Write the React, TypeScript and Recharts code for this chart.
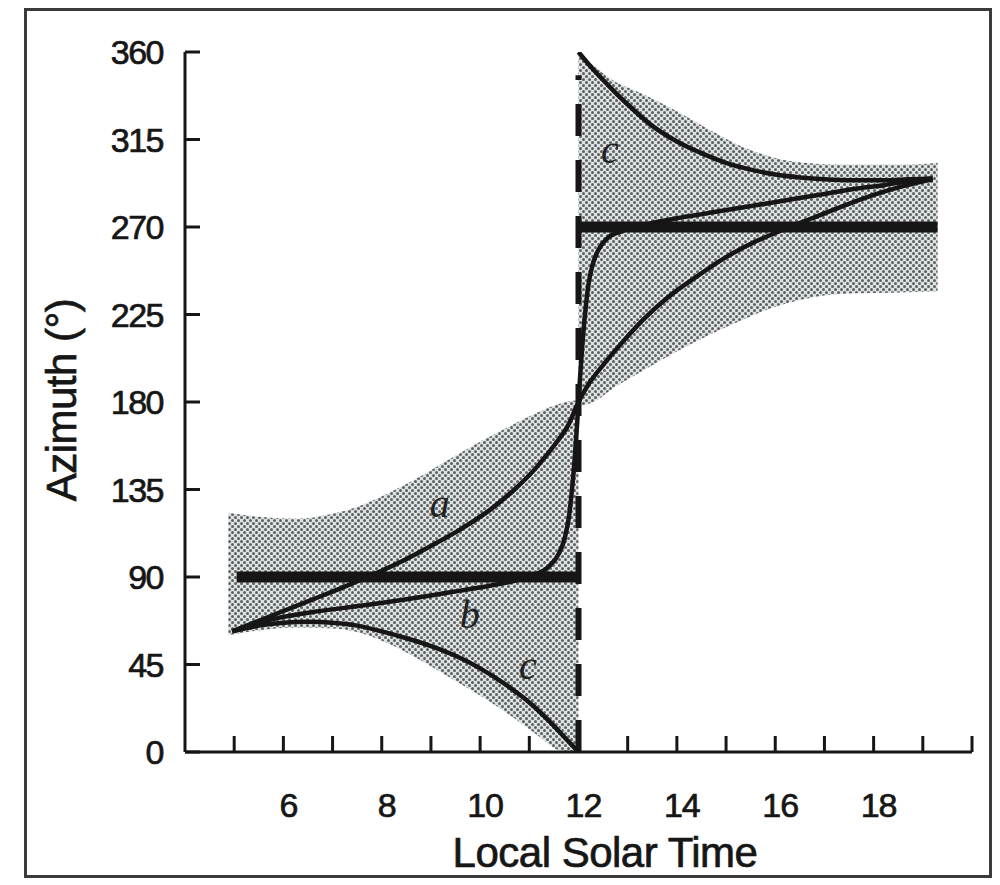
import React from "react";
import {
  ComposedChart,
  Area,
  Line,
  XAxis,
  YAxis,
  ReferenceDot,
} from "recharts";

// hour ticks and azimuth ticks
const hourTicks = [5, 6, 7, 8, 9, 10, 11, 12, 13, 14, 15, 16, 17, 18, 19, 20];
const hourLabels = [6, 8, 10, 12, 14, 16, 18];
const azimuthTicks = [0, 45, 90, 135, 180, 225, 270, 315, 360];

// shaded morning band
const leftBandX = [4.88, 5.5, 6.3, 7.0, 7.6, 8.2, 8.8, 9.4, 10.0, 10.6, 11.2, 11.6, 12.0];
const leftBandLo = [60, 62.5, 64, 63.5, 61, 55, 47, 38, 29, 19, 8, 1, 0];
const leftBandHi = [123, 121, 120, 122.5, 127, 134, 142, 151, 159.5, 167.5, 175, 179, 181];

// shaded afternoon band
const rightBandX = [12.0, 12.3, 12.7, 13.3, 14.0, 14.7, 15.4, 16.0, 16.6, 17.3, 18.0, 18.7, 19.3];
const rightBandLo = [178, 180, 187, 196, 206, 215, 223, 229, 233, 235.5, 236, 236.5, 237];
const rightBandHi = [360, 353, 345.5, 338.5, 329.5, 319.5, 310.5, 305.5, 303, 302, 302, 302, 303];

// curve a
const aX = [4.96, 5.5, 6.0, 6.6, 7.2, 7.8, 8.4, 9.0, 9.6, 10.2, 10.7, 11.15, 11.5, 11.8, 12.0,
  12.2, 12.5, 12.85, 13.3, 13.8, 14.4, 15.0, 15.6, 16.2, 16.8, 17.4, 18.0, 18.6, 19.2];
const aY = [62, 67.5, 72.5, 78.5, 84.5, 91, 98, 106, 114.5, 124.5, 135, 146.5, 157.5, 168.5, 180,
  189, 199, 209.5, 222, 233.5, 244.5, 254.5, 262.5, 269, 275, 281, 286.5, 291, 294.5];

// curve b
const bX = [4.96, 5.5, 6.0, 6.6, 7.2, 7.8, 8.4, 9.0, 9.6, 10.2, 10.7, 11.1, 11.4, 11.6, 11.72,
  11.8, 11.86, 11.92, 11.97, 12.0, 12.03, 12.08, 12.14, 12.2, 12.28, 12.4, 12.6, 12.9, 13.4,
  14.0, 14.6, 15.2, 15.8, 16.4, 17.0, 17.6, 18.2, 18.7, 19.2];
const bY = [62, 66.5, 69.5, 72, 74, 76, 78.2, 80.5, 83, 85.5, 88, 91, 95.5, 102, 110,
  120, 133, 150, 168, 180, 192, 210, 227, 240, 250, 258, 264.5, 268, 271.5,
  274.5, 277, 279.5, 282, 284.5, 287, 289.5, 291.5, 293.5, 295];

// curve c, morning and afternoon branches
const cLeftX = [4.96, 5.5, 6.0, 6.5, 7.0, 7.5, 8.0, 8.5, 9.0, 9.5, 10.0, 10.5, 11.0, 11.4, 11.7, 12.0];
const cLeftY = [62, 65, 66.5, 67, 66.5, 65, 62, 58.5, 54.5, 49.5, 43, 35, 25.5, 16, 8, 0];
const cRightX = [12.0, 12.3, 12.6, 13.0, 13.5, 14.0, 14.5, 15.0, 15.5, 16.0, 16.5, 17.0, 17.6, 18.2, 18.7, 19.2];
const cRightY = [360, 351, 343, 333, 322, 314, 308, 303, 299.5, 297, 295.5, 294.5, 294, 294, 294.5, 295];

// heavy bars and the noon line
const bar90X = [5.05, 12];
const bar90Y = [90, 90];
const bar270X = [12, 19.3];
const bar270Y = [270, 270];
const noonX = [12, 12];
const noonY = [0, 348];

// curve letters
const curveLabels = [
  { x: 9.18, y: 128, text: "a" },
  { x: 9.79, y: 71, text: "b" },
  { x: 10.97, y: 45, text: "c" },
  { x: 12.64, y: 310, text: "c" },
];

const zip = (xs: number[], ys: number[]) => xs.map((x, i) => ({ x, y: ys[i] }));
const band = (xs: number[], lo: number[], hi: number[]) =>
  xs.map((x, i) => ({ x, lo: lo[i], hi: hi[i] }));

const INK = "#161616";
const FONT = "'Liberation Sans', Arial, Helvetica, sans-serif";

function HourTick(props: any) {
  const { x, y, payload } = props;
  const v = payload.value;
  return (
    <g>
      <line x1={x} y1={y} x2={x} y2={y - 16} stroke={INK} strokeWidth={3} />
      {hourLabels.includes(v) && (
        <text
          x={x + 5}
          y={y + 65}
          textAnchor="middle"
          fontSize={34}
          fontFamily={FONT}
          fill={INK}
          stroke={INK}
          strokeWidth={0.7}
          letterSpacing={-1}
        >
          {v}
        </text>
      )}
    </g>
  );
}

function AzimuthTick(props: any) {
  const { x, y, payload } = props;
  return (
    <g>
      <line x1={x} y1={y} x2={x + 15} y2={y} stroke={INK} strokeWidth={3} />
      <text
        x={x - 22}
        y={y + 12}
        textAnchor="end"
        fontSize={34}
        fontFamily={FONT}
        fill={INK}
        stroke={INK}
        strokeWidth={0.7}
        letterSpacing={-1.5}
      >
        {payload.value}
      </text>
    </g>
  );
}

const curveProps = {
  dataKey: "y",
  type: "monotone" as const,
  stroke: INK,
  strokeWidth: 4.5,
  dot: false,
  isAnimationActive: false,
};

export default function App() {
  return (
    <div
      style={{
        position: "absolute",
        left: 0,
        top: 0,
        width: 1000,
        height: 885,
        background: "#fff",
        overflow: "hidden",
      }}
    >
      <div
        style={{
          position: "absolute",
          left: 24,
          top: 8,
          width: 968,
          height: 870,
          border: "3px solid #3a3a3a",
          boxSizing: "border-box",
        }}
      />
      <ComposedChart
        width={1000}
        height={885}
        margin={{ top: 52, right: 28, left: 0, bottom: 0 }}
        style={{ position: "absolute", left: 0, top: 0 }}
      >
        <defs>
          <pattern id="dots" width={6} height={6} patternUnits="userSpaceOnUse">
            <rect width={6} height={6} fill="#dce3e5" />
            <circle cx={1.5} cy={1.5} r={1.5} fill="#5e5e5e" />
            <circle cx={4.5} cy={4.5} r={1.5} fill="#5e5e5e" />
          </pattern>
        </defs>
        <XAxis
          type="number"
          dataKey="x"
          domain={[4, 20]}
          ticks={hourTicks}
          interval={0}
          height={133}
          allowDataOverflow
          tickSize={0}
          tickMargin={0}
          tickLine={false}
          axisLine={{ stroke: INK, strokeWidth: 3 }}
          tick={<HourTick />}
        />
        <YAxis
          type="number"
          domain={[0, 360]}
          ticks={azimuthTicks}
          interval={0}
          width={185}
          allowDataOverflow
          tickSize={0}
          tickMargin={0}
          tickLine={false}
          axisLine={{ stroke: INK, strokeWidth: 3 }}
          tick={<AzimuthTick />}
        />
        <Area
          data={band(leftBandX, leftBandLo, leftBandHi)}
          dataKey={(d: any) => [d.lo, d.hi]}
          type="monotone"
          stroke="none"
          fill="url(#dots)"
          fillOpacity={1}
          isAnimationActive={false}
        />
        <Area
          data={band(rightBandX, rightBandLo, rightBandHi)}
          dataKey={(d: any) => [d.lo, d.hi]}
          type="monotone"
          stroke="none"
          fill="url(#dots)"
          fillOpacity={1}
          isAnimationActive={false}
        />
        <Line
          data={zip(noonX, noonY)}
          dataKey="y"
          type="linear"
          stroke={INK}
          strokeWidth={6}
          strokeDasharray="32 24"
          dot={false}
          isAnimationActive={false}
        />
        <Line
          data={zip(bar90X, bar90Y)}
          dataKey="y"
          type="linear"
          stroke={INK}
          strokeWidth={11}
          dot={false}
          isAnimationActive={false}
        />
        <Line
          data={zip(bar270X, bar270Y)}
          dataKey="y"
          type="linear"
          stroke={INK}
          strokeWidth={11}
          dot={false}
          isAnimationActive={false}
        />
        <Line data={zip(aX, aY)} {...curveProps} />
        <Line data={zip(bX, bY)} {...curveProps} />
        <Line data={zip(cLeftX, cLeftY)} {...curveProps} />
        <Line data={zip(cRightX, cRightY)} {...curveProps} />
        {curveLabels.map((l, i) => (
          <ReferenceDot
            key={i}
            x={l.x}
            y={l.y}
            r={0}
            fill="none"
            stroke="none"
            label={{
              value: l.text,
              position: "center",
              fill: "#222",
              fontSize: 40,
              fontStyle: "italic",
              fontFamily: "'Liberation Serif', 'Times New Roman', serif",
            }}
          />
        ))}
      </ComposedChart>
      <div
        style={{
          position: "absolute",
          left: 0,
          width: 1000,
          top: 830,
          paddingLeft: 210,
          boxSizing: "border-box",
          textAlign: "center",
          fontFamily: FONT,
          fontSize: 42,
          letterSpacing: -0.5,
          color: INK,
          lineHeight: "46px",
          WebkitTextStroke: "0.7px #161616",
        }}
      >
        Local Solar Time
      </div>
      <div
        style={{
          position: "absolute",
          left: 62,
          top: 400,
          transform: "translate(-50%, -50%) rotate(-90deg)",
          whiteSpace: "nowrap",
          fontFamily: FONT,
          fontSize: 42,
          letterSpacing: -0.5,
          color: INK,
          lineHeight: "46px",
          WebkitTextStroke: "0.7px #161616",
        }}
      >
        Azimuth (°)
      </div>
    </div>
  );
}
